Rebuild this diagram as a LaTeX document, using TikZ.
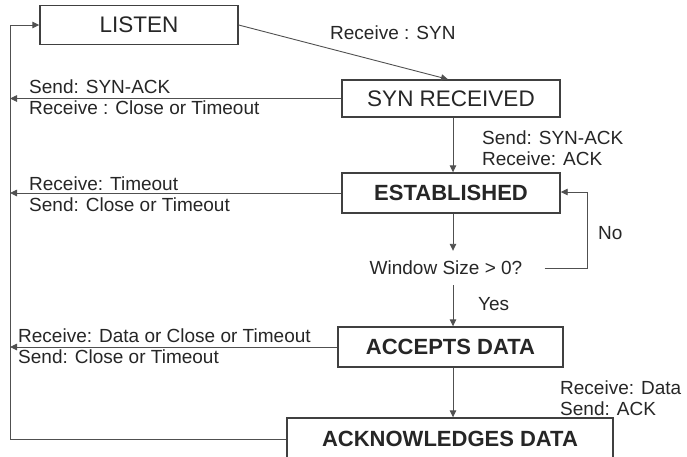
\documentclass[tikz,border=0pt]{standalone}
\usepackage{fontspec}
\setmainfont{Liberation Sans}
\usetikzlibrary{arrows.meta}
\definecolor{txt}{HTML}{262626}
\definecolor{edge}{HTML}{404040}
\definecolor{conn}{HTML}{505050}
\tikzset{
  statebox/.style={draw=edge, line width=1.4pt, fill=white, text=txt, inner sep=0pt,
    font=\fontsize{22.5}{25}\selectfont},
  lbl/.style={text=txt, inner sep=0pt, align=left, font=\fontsize{19}{21.5}\selectfont},
  conn/.style={draw=conn, line width=0.9pt},
  arr/.style={conn, -{Triangle[length=7pt,width=6.5pt]}},
}
\begin{document}
\begin{tikzpicture}[x=1pt,y=-1pt]
\useasboundingbox (0,0) rectangle (687,456);
\clip (0,0) rectangle (687,456);
\coordinate (rail) at (10,0);
% states
\node[statebox, minimum width=198pt, minimum height=39pt] (listen) at (139,25) {LISTEN};
\node[statebox, minimum width=218pt, minimum height=37pt] (synrec) at (451,98.5) {SYN RECEIVED};
\node[statebox, minimum width=218pt, minimum height=40pt, font=\fontsize{22}{25}\selectfont\bfseries] (est) at (451,193) {ESTABLISHED};
\node[lbl, minimum height=34pt] (win) at (446,268) {Window Size > 0?};
\node[statebox, minimum width=225pt, minimum height=40pt, font=\fontsize{22}{25}\selectfont\bfseries] (acc) at (450.5,347) {ACCEPTS DATA};
\node[statebox, minimum width=326pt, minimum height=42pt, font=\fontsize{22}{25}\selectfont\bfseries] (ack) at (450,439) {ACKNOWLEDGES DATA};
% connectors
\draw[arr] (listen.east) -- ([xshift=-3pt]synrec.north);
\draw[arr] (synrec.south -| 453,0) -- (est.north -| 453,0);
\draw[arr] (est.south -| 453,0) -- (win.north -| 453,0);
\draw[arr] (win.south -| 453,0) -- (acc.north -| 453,0);
\draw[arr] (acc.south -| 453,0) -- (ack.north -| 453,0);
\draw[arr] ([xshift=22pt]win.east) -- ++(43,0) |- ([yshift=1pt]est.east);
\draw[arr] (synrec.west) -- (rail |- synrec.west);
\draw[arr] (est.west) -- (rail |- est.west);
\draw[arr] (acc.west) -- (rail |- acc.west);
\draw[arr] (ack.west) -- (rail |- ack.west) -- (rail |- listen.west) -- (listen.west);
% labels
\node[lbl, anchor=west] (l1) at (330,33) {Receive : SYN};
\node[lbl, anchor=west] (l2) at (29,97) {Send: SYN-ACK\\Receive : Close or Timeout};
\node[lbl, anchor=west] (l3) at (482,148) {Send: SYN-ACK\\Receive: ACK};
\node[lbl, anchor=west] (l4) at (29,194) {Receive: Timeout\\Send: Close or Timeout};
\node[lbl, anchor=west] (l5) at (598,233) {No};
\node[lbl, anchor=west] (l6) at (478,304) {Yes};
\node[lbl, anchor=west] (l7) at (18,346) {Receive: Data or Close or Timeout\\Send: Close or Timeout};
\node[lbl, anchor=west] (l8) at (560,398) {Receive: Data\\Send: ACK};
\end{tikzpicture}
\end{document}
